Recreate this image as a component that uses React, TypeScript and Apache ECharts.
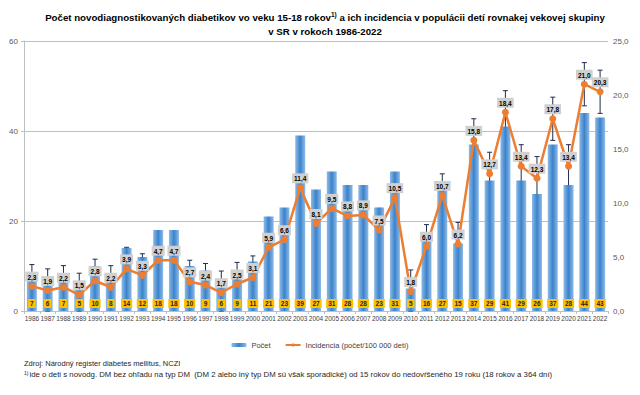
import React, { useEffect, useRef } from "react";
import * as echarts from "echarts";

const years = [
  "1986","1987","1988","1989","1990","1991","1992","1993","1994","1995",
  "1996","1997","1998","1999","2000","2001","2002","2003","2004","2005",
  "2006","2007","2008","2009","2010","2011","2012","2013","2014","2015",
  "2016","2017","2018","2019","2020","2021","2022",
];
const counts = [
  7, 6, 7, 5, 10, 8, 14, 12, 18, 18,
  10, 9, 6, 9, 11, 21, 23, 39, 27, 31,
  28, 28, 23, 31, 5, 16, 27, 15, 37, 29,
  41, 29, 26, 37, 28, 44, 43,
];
const incidence = [
  2.3, 1.9, 2.2, 1.5, 2.8, 2.2, 3.9, 3.3, 4.7, 4.7,
  2.7, 2.4, 1.7, 2.5, 3.1, 5.9, 6.6, 11.4, 8.1, 9.5,
  8.8, 8.9, 7.5, 10.5, 1.8, 6.0, 10.7, 6.2, 15.8, 12.7,
  18.4, 13.4, 12.3, 17.8, 13.4, 21.0, 20.3,
];
// error bars in the picture are a fixed ±2,0 around each incidence point
const errorMargin = 2.0;

const seriesNames = ["Počet", "Incidencia (počet/100 000 detí)"];
const titleLine1a = "Počet novodiagnostikovaných diabetikov vo veku 15-18 rokov";
const titleLine1b = " a ich incidencia v populácii detí rovnakej vekovej skupiny";
const titleLine2 = "v SR v rokoch 1986-2022";
const sourceNote = "Zdroj: Národný register diabetes mellitus, NCZI";
const footNote =
  "ide o deti s novodg. DM bez ohľadu na typ DM  (DM 2 alebo iný typ DM sú však sporadické) od 15 rokov do nedovŕšeného 19 roku (18 rokov a 364 dní)";

const FONT = "'Liberation Sans', Arial, sans-serif";

const fmt = (v: number) => v.toFixed(1).replace(".", ",");

export default function App() {
  const ref = useRef<HTMLDivElement>(null);
  useEffect(() => {
    const chart = echarts.init(ref.current!, null, { renderer: "svg" });
    const errData = incidence.map((v, i) => [i, Math.max(0, v - errorMargin), v + errorMargin]);
    const option: any = {
      animation: false,
      textStyle: { fontFamily: FONT },
      title: {
        left: 320,
        top: 5,
        textAlign: "center",
        text: `{b|${titleLine1a}}{s|1)}{b|${titleLine1b}}\n{b|${titleLine2}}`,
        textStyle: {
          rich: {
            b: { fontFamily: FONT, fontSize: 9.7, fontWeight: "bold", color: "#000", lineHeight: 14 },
            s: { fontFamily: FONT, fontSize: 6.5, fontWeight: "bold", color: "#000", padding: [0, 0, 6, 0], lineHeight: 14 },
          },
        },
      },
      legend: {
        data: seriesNames,
        left: "center",
        top: 336,
        itemWidth: 15,
        itemHeight: 4,
        itemGap: 14,
        textStyle: { fontFamily: FONT, fontSize: 7.5, color: "#404040" },
      },
      grid: { left: 24, right: 32, top: 41, bottom: 84 },
      xAxis: {
        type: "category",
        data: years,
        axisLine: { lineStyle: { color: "#bfbfbf" } },
        axisTick: { show: true, lineStyle: { color: "#bfbfbf" }, length: 3 },
        axisLabel: { interval: 0, fontSize: 6.5, color: "#404040", margin: 4, fontFamily: FONT },
      },
      yAxis: [
        {
          type: "value",
          min: 0,
          max: 60,
          interval: 20,
          axisLine: { show: true, lineStyle: { color: "#bfbfbf" } },
          axisTick: { show: true, length: 3, lineStyle: { color: "#bfbfbf" } },
          splitLine: { lineStyle: { color: "#bfbfbf", width: 1 } },
          axisLabel: { fontSize: 8, color: "#595959", margin: 6, fontFamily: FONT },
        },
        {
          type: "value",
          min: 0,
          max: 25,
          interval: 5,
          position: "right",
          axisLine: { show: false },
          axisTick: { show: false },
          splitLine: { show: false },
          axisLabel: { fontSize: 8, color: "#595959", margin: 5, formatter: (v: number) => fmt(v), fontFamily: FONT },
        },
      ],
      series: [
        {
          name: seriesNames[0],
          type: "bar",
          data: counts,
          barWidth: 10,
          z: 2,
          itemStyle: {
            color: new echarts.graphic.LinearGradient(0, 0, 1, 0, [
              { offset: 0, color: "#8dbbe8" },
              { offset: 0.5, color: "#3b82ca" },
              { offset: 1, color: "#8dbbe8" },
            ]),
          },
          label: {
            show: true,
            position: "insideBottom",
            distance: 3,
            backgroundColor: "#FFC000",
            padding: [1, 2, 1, 2],
            fontSize: 6.5,
            fontWeight: "bold",
            color: "#262626",
            fontFamily: FONT,
          },
        },
        {
          name: "err",
          type: "custom",
          yAxisIndex: 1,
          z: 2,
          data: errData,
          encode: { x: 0, y: [1, 2] },
          renderItem: (params: any, api: any) => {
            const x = api.value(0);
            const lo = api.coord([x, api.value(1)]);
            const hi = api.coord([x, api.value(2)]);
            const hw = 2.5;
            const style = { stroke: "#1f2d4d", lineWidth: 1, fill: null };
            return {
              type: "group",
              children: [
                { type: "line", shape: { x1: hi[0], y1: hi[1], x2: lo[0], y2: lo[1] }, style },
                { type: "line", shape: { x1: hi[0] - hw, y1: hi[1], x2: hi[0] + hw, y2: hi[1] }, style },
                { type: "line", shape: { x1: lo[0] - hw, y1: lo[1], x2: lo[0] + hw, y2: lo[1] }, style },
              ],
            };
          },
        },
        {
          name: seriesNames[1],
          type: "line",
          yAxisIndex: 1,
          data: incidence,
          z: 3,
          symbol: "circle",
          symbolSize: 7,
          itemStyle: { color: "#ED7D31" },
          lineStyle: { color: "#ED7D31", width: 2.5 },
          label: {
            show: true,
            position: "top",
            distance: 1,
            formatter: (p: any) => fmt(p.value),
            backgroundColor: "#d0d0d0",
            padding: [2, 2, 1, 2],
            fontSize: 6.5,
            fontWeight: "bold",
            color: "#000",
            fontFamily: FONT,
          },
        },
      ],
      graphic: [
        {
          type: "text",
          left: 24,
          top: 359,
          style: { text: sourceNote, fontSize: 7.5, fill: "#262626", fontFamily: FONT },
        },
        {
          type: "text",
          left: 24,
          top: 370,
          style: {
            text: `{s|1)}{n|${footNote}}`,
            rich: {
              s: { fontSize: 5, fill: "#262626", padding: [0, 1, 4, 0], fontFamily: FONT },
              n: { fontSize: 7.8, fill: "#262626", fontFamily: FONT },
            },
          },
        },
      ],
    };
    chart.setOption(option);
    return () => chart.dispose();
  }, []);
  return <div ref={ref} style={{ position: "absolute", left: 0, top: 0, width: 640, height: 395 }} />;
}
